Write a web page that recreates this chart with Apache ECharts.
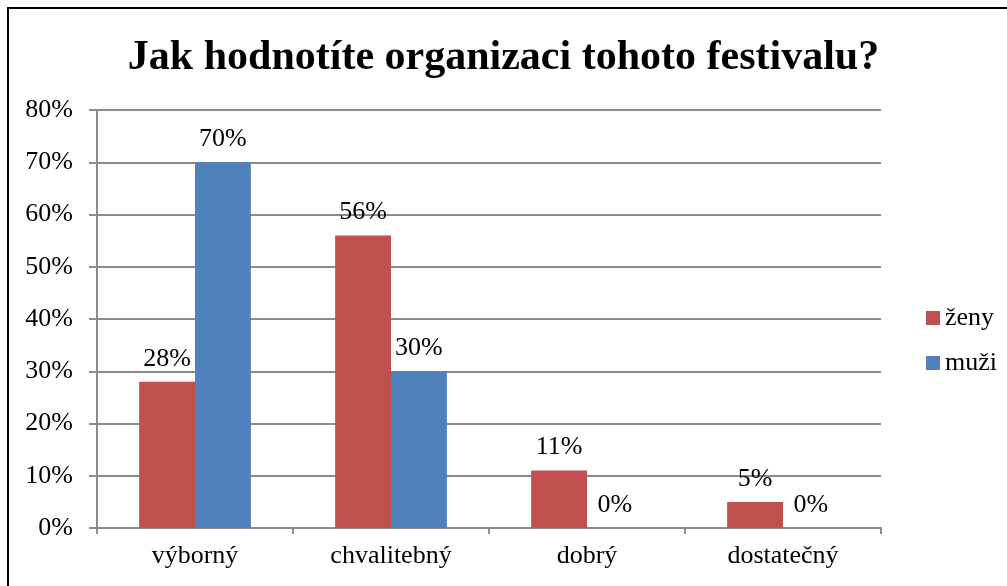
<!DOCTYPE html>
<html>
<head>
<meta charset="utf-8">
<script src="https://cdn.jsdelivr.net/npm/echarts@6/dist/echarts.min.js"></script>
<style>
  html, body { margin: 0; padding: 0; background: #fff; }
  #chart { width: 1007px; height: 586px; }
</style>
</head>
<body>
<div id="chart"></div>
<script>
var categories = ['výborný', 'chvalitebný', 'dobrý', 'dostatečný'];
var zeny = [28, 56, 11, 5];
var muzi = [70, 30, 0, 0];
var seriesNames = ['ženy', 'muži'];

var myChart = echarts.init(document.getElementById('chart'));
var font = '"Liberation Serif", "DejaVu Serif", serif';

var labelOpt = {
  show: true,
  position: 'top',
  distance: 10,
  formatter: '{c}%',
  color: '#000',
  fontFamily: font,
  fontSize: 26
};

var option = {
  animation: false,
  backgroundColor: '#fff',
  title: {
    text: 'Jak hodnotíte organizaci tohoto festivalu?',
    left: 'center',
    top: 32,
    textStyle: {
      fontFamily: font,
      fontSize: 42,
      fontWeight: 'bold',
      color: '#000'
    }
  },
  graphic: [{
    type: 'rect',
    shape: { x: 8, y: 8, width: 1100, height: 700 },
    style: { fill: 'none', stroke: '#000', lineWidth: 2 },
    silent: true
  }],
  legend: {
    orient: 'vertical',
    left: 921,
    top: 300,
    itemWidth: 14,
    itemHeight: 14,
    itemGap: 19,
    icon: 'rect',
    textStyle: { fontFamily: font, fontSize: 26, color: '#000' },
    data: seriesNames
  },
  color: ['#C0504D', '#4F81BD'],
  grid: {
    left: 97,
    right: 126,
    top: 110,
    bottom: 58
  },
  xAxis: {
    type: 'category',
    data: categories,
    axisLine: { lineStyle: { color: '#8c8c8c', width: 2 } },
    axisTick: { show: true, length: 6, lineStyle: { color: '#8c8c8c', width: 2 } },
    axisLabel: { color: '#000', fontFamily: font, fontSize: 26, margin: 15 }
  },
  yAxis: {
    type: 'value',
    min: 0,
    max: 80,
    interval: 10,
    axisLine: { show: true, lineStyle: { color: '#8c8c8c', width: 2 } },
    axisTick: { show: true, length: 8, lineStyle: { color: '#8c8c8c', width: 2 } },
    axisLabel: { formatter: '{value}%', color: '#000', fontFamily: font, fontSize: 26, margin: 24 },
    splitLine: { lineStyle: { color: '#8c8c8c', width: 2 } }
  },
  series: [
    {
      name: seriesNames[0],
      type: 'bar',
      data: zeny,
      barGap: '0%',
      barCategoryGap: '43%',
      label: labelOpt
    },
    {
      name: seriesNames[1],
      type: 'bar',
      data: muzi,
      label: labelOpt
    }
  ]
};
myChart.setOption(option);
</script>
</body>
</html>
